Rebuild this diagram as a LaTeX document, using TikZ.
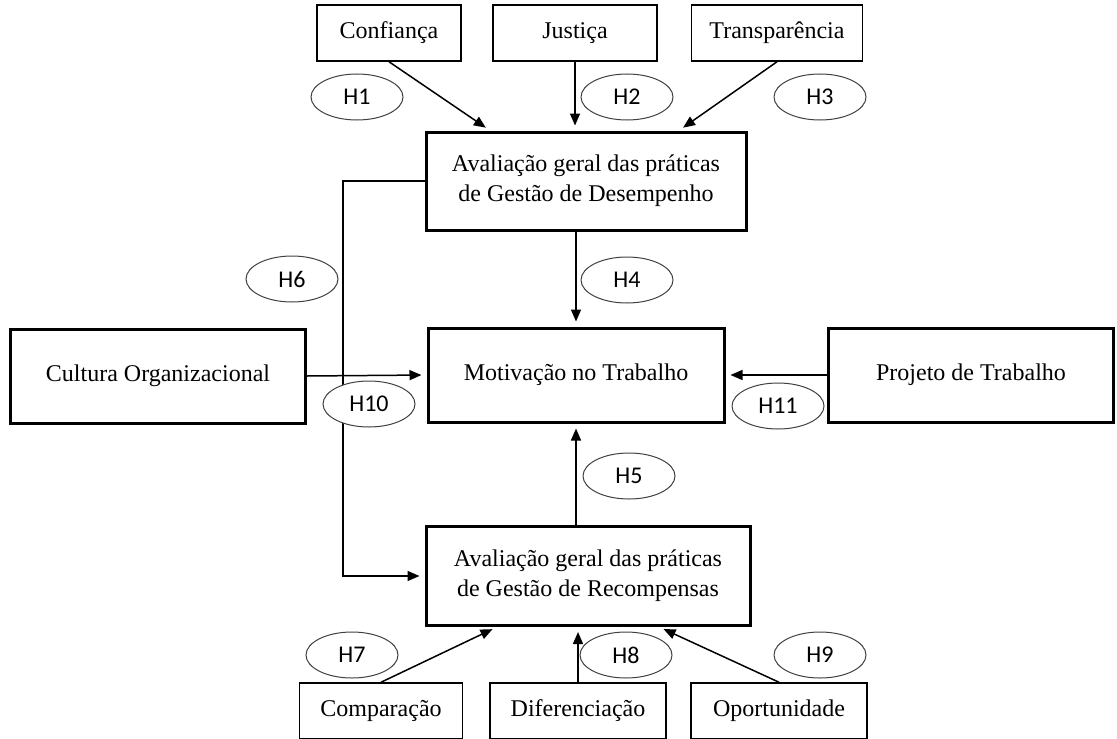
\documentclass[tikz,border=0pt]{standalone}
\usepackage{fontspec}
\setmainfont{Liberation Serif}
\newfontfamily\hypfont{Carlito}
\usetikzlibrary{arrows.meta,shapes.geometric}

\begin{document}
\begin{tikzpicture}[x=0.5pt,y=-0.5pt]
    \tikzset{box/.style = {draw,line width=0.75pt,minimum height=28pt,inner sep=2pt,font=\fontsize{12}{15}\selectfont}}
    \tikzset{bigbox/.style = {box,line width=1.5pt,align=center}}
    \tikzset{hyp/.style = {ellipse,draw=black!75,line width=0.5pt,fill=white,minimum width=46pt,minimum height=23pt,inner sep=0pt,font=\hypfont\fontsize{12}{14}\selectfont}}
    \tikzset{arr/.style = {line width=0.75pt,-{Triangle[length=6pt,width=5pt]},shorten >=2.5pt}}
    \useasboundingbox (0,0) rectangle (1117,738);
    % top row
    \node[box,minimum width=72pt] (conf) at (389,33) {Confiança};
    \node[box,minimum width=82pt] (just) at (575,33) {Justiça};
    \node[box,minimum width=85.5pt] (trans) at (777,33) {Transparência};
    % main boxes
    \node[bigbox,minimum width=160pt,minimum height=49pt] (des) at (586,181)
      {Avaliação geral das práticas\\de Gestão de Desempenho};
    \node[bigbox,minimum width=147.5pt,minimum height=47pt] (cult) at (158,376) {Cultura Organizacional};
    \node[bigbox,minimum width=148pt,minimum height=47pt] (mot) at (576,375) {Motivação no Trabalho};
    \node[bigbox,minimum width=142.5pt,minimum height=47pt] (proj) at (971,375) {Projeto de Trabalho};
    \node[bigbox,minimum width=162pt,minimum height=49.5pt] (rec) at (588,576)
      {Avaliação geral das práticas\\de Gestão de Recompensas};
    % bottom row
    \node[box,minimum width=81.5pt] (comp) at (381,711) {Comparação};
    \node[box,minimum width=88pt] (dif) at (578,711) {Diferenciação};
    \node[box,minimum width=88pt] (opo) at (779,711) {Oportunidade};
    % connectors
    \draw[arr] (conf.south) -- ([xshift=-48pt]des.north);
    \draw[arr] (just.south) -- (just.south |- des.north);
    \draw[arr] (trans.south) -- ([xshift=46.5pt]des.north);
    \draw[arr] (mot.north |- des.south) -- (mot.north);
    \draw[arr] (cult.east) -- (mot.west);
    \draw[arr] (proj.west) -- (mot.east);
    \draw[arr] (mot.south |- rec.north) -- (mot.south);
    \coordinate (loop) at (343,181);
    \draw[arr] (des.west) -- (loop) |- (rec.west);
    \draw[arr] (comp.north) -- ([xshift=-45.5pt]rec.south);
    \draw[arr] (dif.north) -- (dif.north |- rec.south);
    \draw[arr] (opo.north) -- ([xshift=35.5pt]rec.south);
    % hypotheses
    \node[hyp] (h1) at (357,97) {H1}; \node[hyp] (h2) at (627,97) {H2};
    \node[hyp] (h3) at (820,97) {H3}; \node[hyp] (h4) at (627,280) {H4};
    \node[hyp] (h5) at (629,476) {H5}; \node[hyp] (h6) at (292,279) {H6};
    \node[hyp] (h7) at (352,655) {H7}; \node[hyp] (h8) at (626,655) {H8};
    \node[hyp] (h9) at (820,655) {H9}; \node[hyp] (h10) at (369,404) {H10};
    \node[hyp] (h11) at (778,406) {H11};
  \end{tikzpicture}
\end{document}
